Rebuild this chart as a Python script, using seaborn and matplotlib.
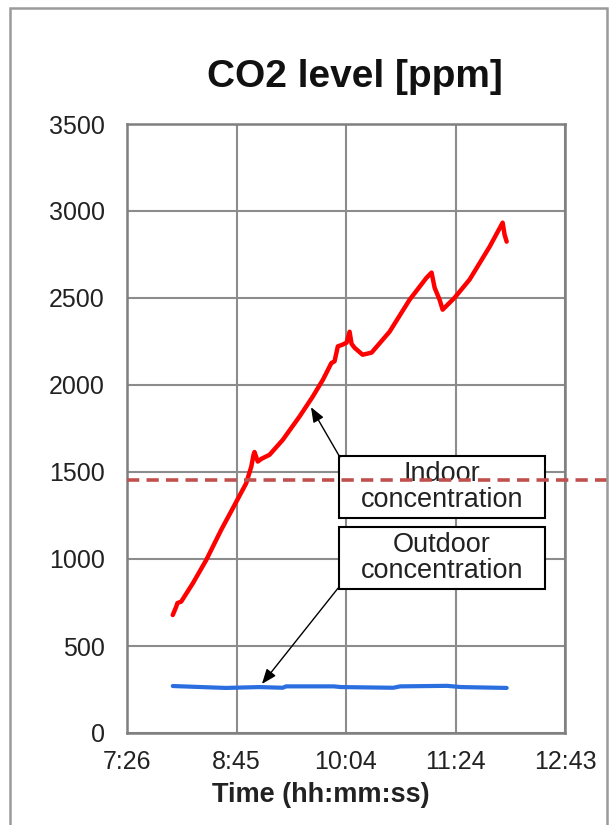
import pandas as pd
import matplotlib.pyplot as plt
import matplotlib.patches as mpatches
import seaborn as sns

# Time axis in minutes since midnight (Excel day fractions 0.31 ... 0.53, step 0.055)
tick_minutes = [446.4, 525.6, 604.8, 684.0, 763.2]
tick_labels = ["7:26", "8:45", "10:04", "11:24", "12:43"]
y_ticks = [0, 500, 1000, 1500, 2000, 2500, 3000, 3500]

# Indoor CO2 (red)
indoor_min = [479.5, 482.0, 482.9, 485.6, 494.0, 503.7, 514.5, 522.9, 532.6, 536.3,
              537.9, 538.6, 541.0, 543.7, 549.5, 559.1, 571.2, 580.8, 588.1, 594.2,
              596.5, 598.9, 602.3, 605.2, 607.4, 608.8, 611.0, 616.8, 623.3, 636.3,
              650.8, 663.1, 666.7, 668.9, 672.5, 674.7, 683.4, 694.2, 708.7, 718.1,
              719.5, 721.0]
indoor_ppm = [678, 726, 747, 755, 860, 994, 1167, 1291, 1435, 1531,
              1598, 1615, 1560, 1576, 1599, 1685, 1819, 1934, 2030, 2126,
              2136, 2222, 2232, 2243, 2306, 2237, 2214, 2174, 2186, 2306,
              2490, 2617, 2646, 2559, 2490, 2433, 2502, 2606, 2795, 2933,
              2864, 2824]

# Outdoor CO2 (blue)
outdoor_min = [479.5, 500.0, 518.0, 542.0, 559.0, 561.5, 596.0, 601.0, 639.0, 644.0,
               678.0, 688.0, 721.0]
outdoor_ppm = [270, 264, 259, 264, 260, 268, 268, 264, 260, 268, 271, 264, 259]

# Threshold shown as the dashed line
threshold_ppm = 1455

df_in = pd.DataFrame({"t": indoor_min, "ppm": indoor_ppm})
df_out = pd.DataFrame({"t": outdoor_min, "ppm": outdoor_ppm})

sns.set_style("white")
plt.rcParams["font.family"] = ["Liberation Sans", "DejaVu Sans"]

fig = plt.figure(figsize=(6.12, 8.25), dpi=100)
ax = fig.add_axes([127 / 612, 1 - 733 / 825, 438 / 612, 609 / 825])

sns.lineplot(data=df_in, x="t", y="ppm", ax=ax, color="#ff0000", linewidth=3.2,
             estimator=None, sort=False, zorder=3)
sns.lineplot(data=df_out, x="t", y="ppm", ax=ax, color="#2a6ee0", linewidth=3.0,
             estimator=None, sort=False, zorder=3)

ax.set_xlim(tick_minutes[0], tick_minutes[-1])
ax.set_ylim(y_ticks[0], y_ticks[-1])
ax.set_xticks(tick_minutes)
ax.set_xticklabels(tick_labels)
ax.set_yticks(y_ticks)
ax.set_xlabel("")
ax.set_ylabel("")

ax.grid(True, color="#8c8c8c", linewidth=1.5)
ax.set_axisbelow(True)
for sp in ax.spines.values():
    sp.set_color("#7f7f7f")
    sp.set_linewidth(1.8)
ax.tick_params(axis="y", direction="out", length=5, width=1.5, color="#7f7f7f",
               labelsize=18, labelcolor="#222222", pad=11)
ax.tick_params(axis="x", direction="out", length=5, width=1.5, color="#7f7f7f",
               labelsize=18, labelcolor="#222222", pad=7)

# Annotation boxes
for y0, y1 in [(0.353, 0.455), (0.2365, 0.338)]:
    ax.add_patch(mpatches.Rectangle((0.484, y0), 0.470, y1 - y0, transform=ax.transAxes,
                                    facecolor="white", edgecolor="black", linewidth=1.5,
                                    zorder=4))
ax.text(0.719, 0.404, "Indoor\nconcentration", transform=ax.transAxes, ha="center",
        va="center", fontsize=19.5, color="#222222", linespacing=1.0, zorder=5)
ax.text(0.719, 0.287, "Outdoor\nconcentration", transform=ax.transAxes, ha="center",
        va="center", fontsize=19.5, color="#222222", linespacing=1.0, zorder=5)

arrow = dict(arrowstyle="-|>,head_length=0.9,head_width=0.35", color="black", lw=1.0,
             shrinkA=0, shrinkB=0)
ax.annotate("", xy=(0.420, 0.535), xytext=(0.486, 0.453), xycoords="axes fraction",
            textcoords="axes fraction", arrowprops=arrow, zorder=5)
ax.annotate("", xy=(0.308, 0.0805), xytext=(0.482, 0.238), xycoords="axes fraction",
            textcoords="axes fraction", arrowprops=arrow, zorder=5)

# Dashed threshold line, running past the plot area to the right edge
ax.axhline(threshold_ppm, xmin=0, xmax=(612 - 127) / 438, color="#c0504d", linewidth=2.6,
           linestyle=(0, (3.4, 2.0)), clip_on=False, zorder=6)

fig.text(355 / 612, 1 - 77 / 825, "CO2 level [ppm]", ha="center", va="center",
         fontsize=28, fontweight="bold", color="#111111")
fig.text(321 / 612, 1 - 795 / 825, "Time (hh:mm:ss)", ha="center", va="center",
         fontsize=19.5, fontweight="bold", color="#222222")

# Outer chart frame
fig.patches.append(mpatches.Rectangle((10 / 612, -0.02), 597 / 612, 1.02 - 8 / 825,
                                      transform=fig.transFigure, fill=False,
                                      edgecolor="#9a9a9a", linewidth=1.8))

fig.savefig("out.png", dpi=100)
